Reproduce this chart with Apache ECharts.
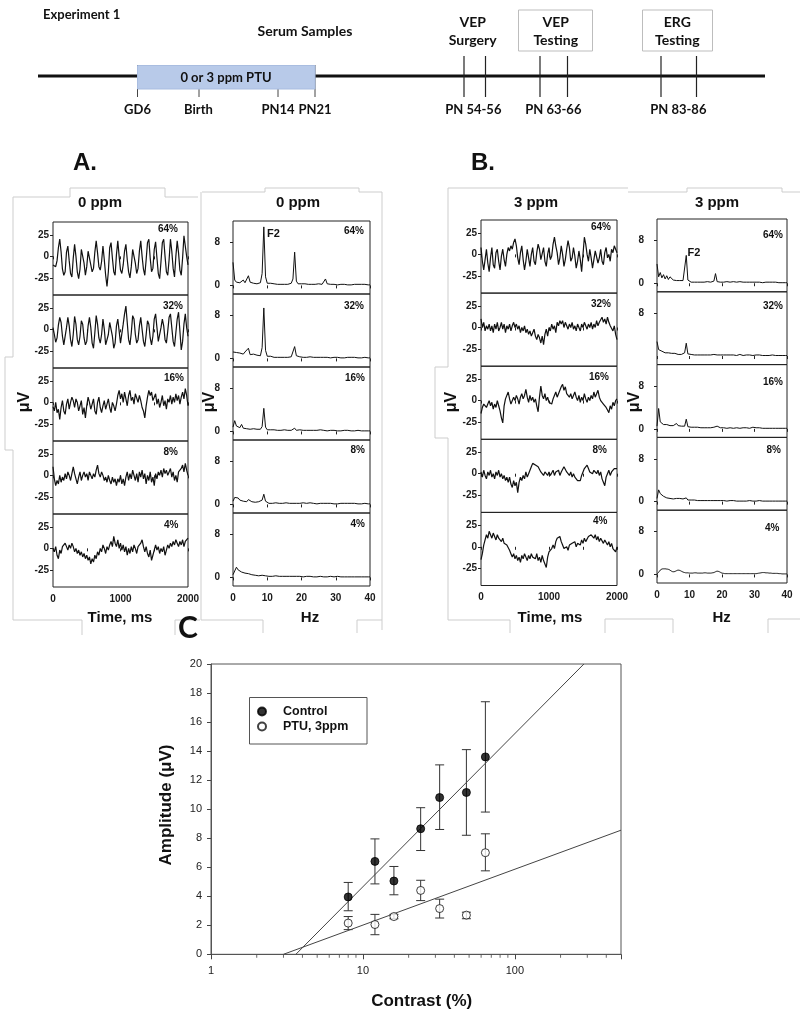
<!DOCTYPE html>
<html><head><meta charset="utf-8">
<script src="https://cdn.jsdelivr.net/npm/echarts@6/dist/echarts.min.js"></script>
<style>html,body{margin:0;padding:0;background:#fff}#c{width:800px;height:1020px}</style>
</head><body><div id="c"></div>
<script>
// ---------------- DATA ----------------
const CONTRAST_LABELS = ['64%','32%','16%','8%','4%'];
const TIME_TICKS = [0, 1000, 2000];
const VOLT_TICKS = [-25, 0, 25];
const SPEC_TICKS = [0, 8];

// time-domain traces (µV), sampled every 20 ms from 0 to 2000 ms
const A_64 = [-10,-8,-12,-5,10,20,5,-15,-22,-18, 5,12,-5,-20,-24,-2,14,0,-18,-26, -15,8,10,-8,-22,-12,6,8,-10,-18, -14,5,18,4,-12,-16,-6,12,-4,-22, -35,-18,10,16,-2,-18,-22,2,18,0, -16,-20,-10,6,14,-4,-18,-25,-12,8, 10,-8,-20,-14,6,18,0,-15,-22,-4, 16,20,-2,-18,-14,8,17,-2,-20,-26, -6,16,20,0,-18,-22,-4,20,6,-14, -24,0,18,4,-16,-22,-2,24,26,0, -10];
const A_32 = [2,-6,-15,-10,5,14,8,-8,-18,-16, 2,14,4,-12,-20,-6,15,6,-12,-18, -8,10,6,-10,-18,-14,4,14,2,-16, -22,-4,16,6,-10,-16,-6,12,0,-18, -20,-6,8,10,-8,-22,-16,4,12,-2, -16,-14,6,18,27,8,-12,-18,-4,16, 12,-6,-16,-12,4,14,0,-14,-20,-6, 10,6,-10,-18,-8,12,18,2,-14,-12, 2,12,4,-12,-16,-2,14,18,2,-14, -20,-4,12,20,-2,-24,-14,6,18,2, -8];
const A_16 = [-5,-10,0,-12,-8,-20,-6,2,-10,-14, -2,4,-8,0,6,2,-6,4,0,-10, -4,2,-14,-6,-18,-4,6,0,-8,-2, 4,-10,-14,0,6,-6,-12,-4,2,-8, -2,4,-6,-12,0,-4,-10,-2,8,14, 4,10,0,12,4,-4,8,14,2,6, -2,10,12,0,8,2,-6,-10,-18,-4, 6,14,8,12,2,6,10,-2,4,-6, 0,8,-4,2,-8,4,0,8,-2,6, 0,10,2,8,-2,6,12,4,16,8, -4];
const A_8 = [10,-4,-12,-6,-10,0,-8,-2,-6,2, -4,4,0,-6,2,10,2,-4,-10,-2, 4,-6,0,4,-2,2,-6,4,0,-4, 2,-2,6,12,2,-2,4,0,-6,-2, -8,0,-6,-10,-2,-8,-4,-12,-4,-8, 0,-10,-4,-12,-2,4,-6,2,-4,6, 0,-6,2,-8,4,-2,6,-4,2,-10, 0,-6,4,-8,-2,-12,2,-4,4,0, 6,-2,8,2,6,0,4,8,-2,4, -6,0,-8,4,2,8,12,4,14,6, 0];
const A_4 = [0,-4,2,-8,-12,-2,-6,2,0,6, 2,-2,4,0,6,2,-4,0,-6,-2, -8,-4,-10,-6,-12,-8,-14,-10,-18,-12, -16,-8,-12,-4,-8,0,-4,4,0,-6, 2,-2,4,8,2,14,6,2,10,0, 6,-2,4,-4,2,-8,0,-6,2,-4, 4,0,-6,2,0,6,10,2,-4,2, -6,-10,-2,-14,-8,-2,4,-2,2,-6, 0,-4,2,-8,-2,4,0,6,2,8, 4,10,6,2,8,4,10,2,8,6, 12];
const B_64 = [8,-8,-18,-6,6,-10,-20,-4,8,-12, -16,2,6,-8,-18,-2,6,-6,-14,0, 8,4,10,6,14,18,10,-4,-12,2, 10,-6,-18,-8,6,-4,-14,0,8,-8, -12,2,12,6,-6,-4,8,-8,-14,0, 8,-6,-2,12,20,10,2,-12,-4,10, 0,-14,-6,6,16,8,-8,-4,8,-2, -16,-8,4,-6,-20,0,20,12,0,-8, 6,-4,-16,-6,4,2,-10,-4,6,-8, -12,2,8,-4,0,-8,6,2,10,6, 2];
const B_32 = [10,0,6,-4,2,-2,4,-4,2,-6, 4,-2,6,-4,0,6,-2,4,-6,2, -2,4,-4,2,6,0,4,-2,2,-6, 0,-4,2,-6,-2,-8,-4,-10,-6,-2, -10,-14,-8,-12,-18,-10,-20,-8,-2,-10, 0,-4,4,-2,2,-6,6,2,8,4, 8,0,6,2,-2,4,0,6,-2,2, -4,4,0,-4,4,0,6,2,-2,4, 0,6,-2,4,0,8,2,6,4,12, 6,10,4,12,6,2,4,-4,2,-8, -14];
const B_16 = [-15,-8,-4,-2,-8,-4,0,-6,-2,-10, -4,-8,0,-6,-12,-20,-26,-6,2,4, 10,2,-4,-2,4,0,6,2,-4,4, 8,2,6,13,4,-2,6,0,4,-2, 2,-6,-13,4,17,6,2,8,0,4, -2,0,-4,2,6,10,4,8,12,16, 19,12,16,8,10,4,8,2,6,10, 4,0,6,-2,4,0,8,2,-2,4, 0,6,2,10,4,8,12,4,0,2, -4,-2,-8,-11,-14,-6,-10,-2,-6,0, 2];
const B_8 = [2,-4,4,-2,-6,2,-2,4,-4,0, -6,2,-2,4,-4,0,-6,-2,-8,-4, -10,-4,-12,-16,-8,-14,-10,-22,-10,-4, -8,-2,-6,2,-4,0,4,8,12,14, 10,12,8,6,2,4,-2,2,0,-2, 2,-2,0,4,-2,2,0,4,-2,2, 4,8,6,2,4,-2,2,-4,0,-4, -6,-8,-6,-8,-2,2,6,4,10,6, 2,4,0,4,6,0,4,-2,2,-6, -10,-14,-4,0,4,-2,2,0,6,4, 6];
const B_4 = [-15,-8,2,8,14,10,18,14,10,16, 12,8,14,10,12,6,10,4,6,2, 4,-4,-8,-12,-8,-14,-10,-16,-12,-18, -10,-14,-8,-12,-16,-10,-14,-8,-12,-10, -14,-8,-16,-12,-18,-10,-16,-20,-24,-12, -6,-8,-2,2,-2,6,10,8,12,6, 2,-2,-4,0,-4,2,0,4,2,6, 0,4,6,2,8,4,10,6,8,12, 10,14,16,10,14,8,12,6,10,8, 4,8,6,2,6,0,4,-2,-4,-6, 0];

// amplitude spectra (µV), 0 to 40 Hz in 0.5 Hz bins
const SA_64 = [4.3,1.0,0.6,0.9,0.5,0.7,1.0,0.5,0.7,1.8, 0.6,0.5,0.4,0.5,0.3,0.4,0.5,2.2,10.9,1.6, 0.4,0.3,0.4,0.2,0.3,0.3,0.2,0.4,0.2,0.3, 0.2,0.3,0.2,0.3,0.4,1.2,6.2,0.8,0.3,0.2, 0.3,0.2,0.3,0.2,0.2,0.3,0.2,0.3,0.2,0.2, 0.3,0.2,0.2,0.4,1.2,0.3,0.2,0.2,0.1,0.2, 0.2,0.1,0.2,0.2,0.1,0.2,0.2,0.1,0.2,0.1, 0.2,0.2,0.1,0.2,0.1,0.2,0.1,0.2,0.1,0.1, 0.1];
const SA_32 = [1.2,1.5,1.1,1.4,1.0,1.3,0.8,1.2,0.9,1.9, 0.7,0.6,0.8,0.5,0.6,0.4,0.5,2.0,9.4,1.5, 0.4,0.3,0.4,0.3,0.2,0.3,0.2,0.3,0.2,0.3, 0.2,0.3,0.2,0.2,0.3,0.6,2.2,0.5,0.2,0.3, 0.2,0.2,0.3,0.2,0.2,0.3,0.2,0.2,0.3,0.2, 0.2,0.2,0.3,0.2,0.5,0.2,0.2,0.1,0.2,0.2, 0.1,0.2,0.2,0.1,0.2,0.1,0.2,0.2,0.1,0.2, 0.1,0.2,0.1,0.1,0.2,0.1,0.1,0.2,0.1,0.1, 0.1];
const SA_16 = [0.8,2.0,1.0,1.2,0.7,1.3,0.6,0.8,0.5,0.6, 0.4,0.6,0.5,0.7,0.4,0.5,0.4,0.9,4.3,0.8, 0.3,0.2,0.3,0.2,0.3,0.2,0.2,0.3,0.2,0.2, 0.3,0.2,0.2,0.3,0.2,0.3,0.6,0.2,0.2,0.3, 0.2,0.2,0.3,0.2,0.2,0.2,0.3,0.2,0.2,0.2, 0.2,0.3,0.2,0.2,0.2,0.1,0.2,0.2,0.1,0.2, 0.2,0.1,0.2,0.1,0.2,0.2,0.1,0.2,0.1,0.1, 0.2,0.1,0.1,0.2,0.1,0.1,0.2,0.1,0.1,0.1, 0.1];
const SA_8 = [0.6,1.3,1.0,1.2,0.8,0.9,0.6,0.8,0.5,0.9, 0.6,0.5,0.7,0.4,0.6,0.5,0.6,0.8,1.9,0.6, 0.3,0.2,0.3,0.2,0.2,0.3,0.2,0.2,0.3,0.2, 0.2,0.3,0.2,0.2,0.3,0.2,0.3,0.2,0.2,0.2, 0.2,0.3,0.2,0.2,0.2,0.3,0.2,0.2,0.2,0.1, 0.2,0.2,0.1,0.2,0.2,0.2,0.1,0.2,0.2,0.1, 0.2,0.1,0.2,0.2,0.1,0.2,0.1,0.2,0.1,0.2, 0.1,0.2,0.1,0.1,0.2,0.1,0.1,0.2,0.1,0.1, 0.1];
const SA_4 = [0.5,1.2,1.9,1.4,1.6,1.0,1.3,0.8,1.0,0.7, 0.8,0.5,0.6,0.4,0.5,0.3,0.4,0.4,0.7,0.3, 0.3,0.2,0.3,0.2,0.2,0.3,0.2,0.2,0.2,0.2, 0.2,0.2,0.2,0.2,0.2,0.2,0.2,0.2,0.1,0.2, 0.2,0.1,0.2,0.2,0.1,0.2,0.2,0.1,0.2,0.1, 0.2,0.2,0.1,0.1,0.2,0.1,0.1,0.2,0.1,0.1, 0.1,0.2,0.1,0.1,0.1,0.1,0.2,0.1,0.1,0.1, 0.1,0.1,0.1,0.1,0.1,0.1,0.1,0.1,0.1,0.1, 0.1];
const SB_64 = [3.6,1.2,2.0,1.0,1.6,0.8,1.4,0.7,1.2,0.9, 0.6,0.7,0.5,0.6,0.5,0.4,0.5,0.8,5.2,0.6, 0.3,0.2,0.3,0.2,0.5,0.2,0.3,0.2,0.4,0.2, 0.2,0.3,0.2,0.2,0.3,0.4,1.8,0.3,0.2,0.2, 0.3,0.2,0.2,0.3,0.2,0.2,0.2,0.3,0.2,0.2, 0.2,0.3,0.2,0.2,0.2,0.2,0.3,0.2,0.1,0.2, 0.2,0.2,0.1,0.2,0.2,0.1,0.2,0.2,0.1,0.2, 0.1,0.2,0.1,0.2,0.1,0.1,0.2,0.1,0.1,0.1, 0.1];
const SB_32 = [2.7,1.2,1.5,0.9,1.1,0.6,0.5,0.6,0.4,0.5, 0.4,0.5,0.4,0.3,0.4,0.3,0.4,0.6,2.4,0.4, 0.2,0.3,0.2,0.2,0.3,0.2,0.2,0.2,0.3,0.2, 0.2,0.2,0.2,0.2,0.2,0.3,0.5,0.2,0.2,0.2, 0.2,0.2,0.1,0.2,0.2,0.2,0.1,0.2,0.2,0.1, 0.2,0.3,0.2,0.1,0.2,0.2,0.1,0.2,0.2,0.1, 0.3,0.2,0.1,0.2,0.1,0.1,0.2,0.1,0.2,0.1, 0.1,0.2,0.1,0.1,0.1,0.1,0.2,0.1,0.1,0.1, 0.1];
const SB_16 = [0.5,3.8,1.3,1.0,0.8,0.6,0.8,0.5,0.6,0.5, 0.6,0.7,1.0,0.6,0.9,0.5,0.4,0.5,1.8,0.4, 0.3,0.3,0.2,0.3,0.2,0.3,0.2,0.2,0.3,0.2, 0.2,0.2,0.3,0.2,0.2,0.3,0.3,0.5,0.2,0.2, 0.2,0.2,0.2,0.1,0.2,0.2,0.2,0.1,0.2,0.2, 0.2,0.1,0.2,0.2,0.1,0.2,0.2,0.1,0.2,0.3, 0.1,0.2,0.1,0.2,0.1,0.1,0.2,0.1,0.1,0.1, 0.1,0.1,0.1,0.1,0.1,0.1,0.1,0.1,0.1,0.1, 0.1];
const SB_8 = [0.6,2.2,1.5,1.7,1.0,1.2,0.7,0.8,0.6,0.7, 0.5,0.8,0.6,0.9,0.6,0.8,0.5,0.5,0.7,0.3, 0.3,0.3,0.2,0.3,0.2,0.2,0.3,0.2,0.2,0.2, 0.2,0.2,0.3,0.2,0.2,0.2,0.2,0.2,0.2,0.2, 0.2,0.2,0.2,0.1,0.2,0.2,0.1,0.2,0.2,0.1, 0.2,0.1,0.2,0.1,0.2,0.1,0.1,0.2,0.1,0.1, 0.1,0.1,0.1,0.2,0.1,0.1,0.1,0.1,0.1,0.1, 0.1,0.1,0.1,0.1,0.1,0.1,0.1,0.1,0.1,0.1, 0.1];
const SB_4 = [0.1,0.4,0.8,1.0,1.05,1.05,1.0,0.95,0.8,0.6, 0.5,0.55,0.7,0.8,0.75,0.6,0.45,0.35,0.3,0.3, 0.25,0.25,0.25,0.3,0.3,0.25,0.25,0.25,0.25,0.3, 0.3,0.25,0.25,0.25,0.3,0.35,0.5,0.6,0.55,0.4, 0.25,0.2,0.15,0.15,0.15,0.15,0.15,0.15,0.15,0.15, 0.15,0.15,0.15,0.15,0.15,0.15,0.15,0.15,0.15,0.15, 0.15,0.15,0.2,0.25,0.3,0.35,0.35,0.3,0.3,0.25, 0.25,0.2,0.2,0.2,0.2,0.15,0.15,0.1,0.1,0.1, 0.1];

// panel C
const CONTRAST = [8, 12, 16, 24, 32, 48, 64];
const CONTROL_MEAN = [3.95, 6.4, 5.05, 8.65, 10.8, 11.15, 13.6];
const CONTROL_LOW  = [3.0, 4.85, 4.1, 7.15, 8.6, 8.2, 9.8];
const CONTROL_HIGH = [4.95, 7.95, 6.05, 10.1, 13.05, 14.1, 17.4];
const PTU_MEAN = [2.15, 2.05, 2.6, 4.4, 3.15, 2.7, 7.0];
const PTU_LOW  = [1.7, 1.35, 2.45, 3.7, 2.5, 2.45, 5.75];
const PTU_HIGH = [2.6, 2.75, 2.75, 5.1, 3.8, 2.9, 8.3];
const CONTROL_FIT_X = [3.62, 285];
const CONTROL_FIT_Y = [0, 20];
const PTU_FIT_X = [3.0, 500];
const PTU_FIT_Y = [0, 8.55];
const LOG_X_LABELS = [1, 10, 100];
const LOG_MINOR_TICKS = [2,3,4,5,6,7,8,9,20,30,40,50,60,70,80,90,200,300,400];

// sampling grids
const TIME_MS = A_64.map((_, i) => i * 20);
const FREQ_HZ = SA_64.map((_, i) => i * 0.5);

// ---------------- LAYOUT / STYLE ----------------
const ARIAL = '"Liberation Sans", Arial, sans-serif';
const CAL = 'Lato, "Open Sans", sans-serif';
const zip = (xs, ys) => ys.map((v, i) => [xs[i], v]);

const blocks = [
  { kind: 'time', left: 53, width: 135, top0: 222, h: 73, traces: [A_64, A_32, A_16, A_8, A_4],
    pct: [[178,229],[183,306],[184,378],[178,452.5],[178.5,525.5]] },
  { kind: 'spec', left: 233, width: 137, top0: 221, h: 73, traces: [SA_64, SA_32, SA_16, SA_8, SA_4],
    pct: [[364,231.5],[364,306.5],[365,378.5],[365,450.5],[365,524]] },
  { kind: 'time', left: 481, width: 136, top0: 220, h: 73.1, traces: [B_64, B_32, B_16, B_8, B_4],
    pct: [[611,227.5],[611,304.5],[609,377],[607,450],[607.5,521.5]] },
  { kind: 'spec', left: 657, width: 130, top0: 219, h: 72.8, traces: [SB_64, SB_32, SB_16, SB_8, SB_4],
    pct: [[783,235],[783,306.5],[783,382],[781,450.5],[779.5,528.3]], noZero: [1], smooth: [4] }
];

const grid = [], xAxis = [], yAxis = [], series = [], elements = [];
const tickLbl = { fontFamily: ARIAL, fontWeight: 'bold', fontSize: 10, color: '#1a1a1a' };

blocks.forEach(b => {
  b.traces.forEach((tr, k) => {
    const g = grid.length;
    grid.push({ left: b.left, top: b.top0 + b.h * k, width: b.width, height: b.h, show: true,
      borderColor: '#222', borderWidth: 1, backgroundColor: 'transparent', containLabel: false, outerBoundsMode: 'none' });
    const isTime = b.kind === 'time';
    xAxis.push({ type: 'value', gridIndex: g, min: 0, max: isTime ? 2000 : 40, interval: isTime ? 500 : 10,
      axisLine: { show: false }, splitLine: { show: false },
      axisTick: { show: true, length: 3, lineStyle: { color: '#222' } },
      axisLabel: Object.assign({ show: k === 4, margin: 7,
        formatter: v => isTime ? (TIME_TICKS.indexOf(v) >= 0 ? String(v) : '') : String(v) }, tickLbl) });
    const yt = isTime ? VOLT_TICKS : ((b.noZero && b.noZero.indexOf(k) >= 0) ? [8] : SPEC_TICKS);
    yAxis.push({ type: 'value', gridIndex: g, min: isTime ? -45 : -1.6, max: isTime ? 40 : 12,
      axisLine: { show: false }, splitLine: { show: false },
      axisTick: { show: true, length: 3, customValues: yt, lineStyle: { color: '#222' } },
      axisLabel: Object.assign({ customValues: yt, margin: isTime ? 4 : 13 }, tickLbl) });
    series.push({ type: 'line', xAxisIndex: g, yAxisIndex: g, data: zip(isTime ? TIME_MS : FREQ_HZ, tr),
      showSymbol: false, symbol: 'none', silent: true, animation: false,
      smooth: (b.smooth && b.smooth.indexOf(k) >= 0) ? 0.5 : false,
      lineStyle: { color: '#111', width: isTime ? 1.2 : 1 } });
    const p = b.pct[k];
    elements.push({ type: 'text', x: p[0], y: p[1], silent: true,
      style: { text: CONTRAST_LABELS[k], font: 'bold 10px ' + ARIAL, fill: '#111', align: 'right', verticalAlign: 'middle' } });
  });
});

// panel C
const gC = grid.length;
grid.push({ left: 211, top: 664, width: 410, height: 290.3, show: true, borderColor: '#555', borderWidth: 1,
  backgroundColor: 'transparent', containLabel: false, outerBoundsMode: 'none' });
xAxis.push({ type: 'log', logBase: 10, gridIndex: gC, min: 1, max: 500,
  axisLine: { show: true, lineStyle: { color: '#555' } }, splitLine: { show: false }, minorTick: { show: false },
  axisTick: { show: true, length: 5, lineStyle: { color: '#444' } },
  axisLabel: { margin: 11, fontFamily: ARIAL, fontSize: 11, color: '#222',
    formatter: v => LOG_X_LABELS.indexOf(Math.round(v)) >= 0 ? String(Math.round(v)) : '' } });
yAxis.push({ type: 'value', gridIndex: gC, min: 0, max: 20, interval: 2,
  axisLine: { show: true, lineStyle: { color: '#555' } }, splitLine: { show: false },
  axisTick: { show: true, length: 4, lineStyle: { color: '#444' } },
  axisLabel: { margin: 9, fontFamily: ARIAL, fontSize: 11, color: '#222' } });

const errRender = (params, api) => {
  const x = api.value(0), lo = api.coord([x, api.value(1)]), hi = api.coord([x, api.value(2)]);
  const w = 4.5, st = { stroke: '#333', lineWidth: 1 };
  return { type: 'group', children: [
    { type: 'line', shape: { x1: lo[0], y1: lo[1], x2: hi[0], y2: hi[1] }, style: st },
    { type: 'line', shape: { x1: lo[0] - w, y1: lo[1], x2: lo[0] + w, y2: lo[1] }, style: st },
    { type: 'line', shape: { x1: hi[0] - w, y1: hi[1], x2: hi[0] + w, y2: hi[1] }, style: st }
  ] };
};
series.push(
  { type: 'custom', name: 'ctrlErr', xAxisIndex: gC, yAxisIndex: gC, renderItem: errRender, silent: true, animation: false,
    encode: { x: 0, y: [1, 2] }, data: CONTRAST.map((c, i) => [c, CONTROL_LOW[i], CONTROL_HIGH[i]]), z: 2 },
  { type: 'custom', name: 'ptuErr', xAxisIndex: gC, yAxisIndex: gC, renderItem: errRender, silent: true, animation: false,
    encode: { x: 0, y: [1, 2] }, data: CONTRAST.map((c, i) => [c, PTU_LOW[i], PTU_HIGH[i]]), z: 2 },
  { type: 'line', name: 'ctrlFit', xAxisIndex: gC, yAxisIndex: gC, data: zip(CONTROL_FIT_X, CONTROL_FIT_Y),
    showSymbol: false, symbol: 'none', silent: true, animation: false, lineStyle: { color: '#444', width: 1 }, z: 3 },
  { type: 'line', name: 'ptuFit', xAxisIndex: gC, yAxisIndex: gC, data: zip(PTU_FIT_X, PTU_FIT_Y),
    showSymbol: false, symbol: 'none', silent: true, animation: false, lineStyle: { color: '#444', width: 1 }, z: 3 },
  { type: 'scatter', name: 'minorTicks', xAxisIndex: gC, yAxisIndex: gC, data: LOG_MINOR_TICKS.map(v => [v, 0]),
    symbol: 'rect', symbolSize: [1, 3], symbolOffset: [0, 2], itemStyle: { color: '#444' }, clip: false, silent: true, animation: false, z: 1 },
  { type: 'scatter', name: 'Control', xAxisIndex: gC, yAxisIndex: gC, data: zip(CONTRAST, CONTROL_MEAN),
    symbol: 'circle', symbolSize: 8, itemStyle: { color: '#000', borderColor: '#000', borderWidth: 1 }, silent: true, animation: false, z: 5 },
  { type: 'scatter', name: 'PTU, 3ppm', xAxisIndex: gC, yAxisIndex: gC, data: zip(CONTRAST, PTU_MEAN),
    symbol: 'circle', symbolSize: 8, itemStyle: { color: '#fff', borderColor: '#111', borderWidth: 1 }, silent: true, animation: false, z: 5 }
);

// ---------------- GRAPHIC (diagram, frames, titles) ----------------
const T = (text, x, y, font, align, extra) => Object.assign({ type: 'text', x, y, silent: true,
  style: { text, font, fill: '#111', align: align || 'center', verticalAlign: 'middle' } }, extra || {});
const L = (x1, y1, x2, y2, stroke, lw) => ({ type: 'line', silent: true, shape: { x1, y1, x2, y2 }, style: { stroke, lineWidth: lw } });
const P = pts => ({ type: 'polyline', silent: true, shape: { points: pts }, style: { stroke: '#cdcdcd', lineWidth: 1, fill: null } });

// timeline
elements.push(L(38, 76, 765, 76, '#111', 3));
[137.5, 199, 278, 315].forEach(x => elements.push(L(x, 65, x, 97, '#444', 1)));
[464, 485.5, 540, 567.5, 661, 696.5].forEach(x => elements.push(L(x, 56, x, 97, '#222', 1.2)));
elements.push({ type: 'rect', silent: true, shape: { x: 137.5, y: 65.5, width: 177.5, height: 23.5 },
  style: { fill: '#b8cae9', stroke: '#a9bde0', lineWidth: 1 } });
elements.push({ type: 'rect', silent: true, shape: { x: 518.5, y: 10, width: 74, height: 41 }, style: { fill: null, stroke: '#bdbdbd', lineWidth: 1 } });
elements.push({ type: 'rect', silent: true, shape: { x: 642.5, y: 10, width: 70, height: 41 }, style: { fill: null, stroke: '#bdbdbd', lineWidth: 1 } });
const CB13 = 'bold 13px ' + CAL, CB14 = 'bold 14px ' + CAL;
elements.push(
  T('0 or 3 ppm PTU', 226, 77.5, CB13),
  T('Experiment 1', 43, 15, CB13, 'left'),
  T('Serum Samples', 305, 31.5, CB14),
  T('VEP', 472.7, 22.7, CB14), T('Surgery', 472.7, 40, CB14),
  T('VEP', 555.7, 22.7, CB14), T('Testing', 555.7, 40, CB14),
  T('ERG', 677.3, 22.7, CB14), T('Testing', 677.3, 40, CB14),
  T('GD6', 137.5, 110, CB13), T('Birth', 198.5, 110, CB13), T('PN14', 278, 110, CB13), T('PN21', 315, 110, CB13),
  T('PN 54-56', 473.3, 110, CB13), T('PN 63-66', 553.3, 110, CB13), T('PN 83-86', 678.3, 110, CB13)
);

// faint pasted-panel frames
elements.push(
  P([[13,197],[70,197],[70,188],[165,188],[165,197],[198,197]]),
  P([[13,197],[13,357],[5,357],[5,450],[13,450],[13,620],[82,620],[82,635]]),
  P([[175,635],[175,620],[200,620]]),
  P([[202,192],[265,192],[265,188],[359,188],[359,192],[382,192]]),
  P([[201,192],[201,620],[263,620],[263,633]]),
  P([[382,192],[382,630]]), P([[357,633],[357,620],[382,620]]),
  P([[448,188],[628,188]]),
  P([[628,192],[687,192],[687,188],[782,188],[782,192],[800,192]]),
  P([[448,188],[448,367],[435,367],[435,438],[448,438],[448,620],[510,620],[510,633]]),
  P([[605,633],[605,619],[673,619],[673,633]]),
  P([[768,633],[768,619],[800,619]])
);

// panel titles & axis titles
const AB24 = 'bold 24px ' + ARIAL, AB15 = 'bold 15px ' + ARIAL, AB16 = 'bold 16px ' + ARIAL;
elements.push(
  T('A.', 73, 163, AB24, 'left'), T('B.', 471, 163, AB24, 'left'),
  T('0 ppm', 100, 203, AB15), T('0 ppm', 298, 203, AB15),
  T('3 ppm', 536, 203, AB15), T('3 ppm', 717, 203, AB15),
  T('F2', 267, 233.5, 'bold 11px ' + ARIAL, 'left'), T('F2', 687.5, 252.5, 'bold 11px ' + ARIAL, 'left'),
  T('μV', 25, 402, AB16, 'center', { rotation: Math.PI / 2 }),
  T('μV', 210, 402, AB16, 'center', { rotation: Math.PI / 2 }),
  T('μV', 451.7, 402, AB16, 'center', { rotation: Math.PI / 2 }),
  T('μV', 635, 402, AB16, 'center', { rotation: Math.PI / 2 }),
  T('Time, ms', 120, 618, AB15), T('Hz', 310, 618, AB15),
  T('Time, ms', 550, 618, AB15), T('Hz', 721.7, 618, AB15),
  T('C', 188, 628, 'bold 30px ' + CAL),
  T('Amplitude (μV)', 166.7, 805, 'bold 17px ' + ARIAL, 'center', { rotation: Math.PI / 2 }),
  T('Contrast (%)', 421.7, 1001.7, 'bold 17px ' + ARIAL)
);
elements.push({ type: 'rect', silent: true, shape: { x: 249.5, y: 697.5, width: 117.5, height: 46.5 },
  style: { fill: null, stroke: '#555', lineWidth: 1 } });

const option = {
  backgroundColor: '#fff',
  animation: false,
  grid, xAxis, yAxis, series,
  legend: { orient: 'vertical', left: 257, top: 705, padding: 0, itemGap: 2, itemWidth: 32, itemHeight: 8,
    selectedMode: false,
    textStyle: { fontFamily: ARIAL, fontWeight: 'bold', fontSize: 12.5, color: '#111' },
    data: [{ name: 'Control', icon: 'circle' }, { name: 'PTU, 3ppm', icon: 'circle' }] },
  graphic: { elements }
};
const chart = echarts.init(document.getElementById('c'), null, { renderer: 'canvas', width: 800, height: 1020 });
chart.setOption(option);
</script></body></html>
